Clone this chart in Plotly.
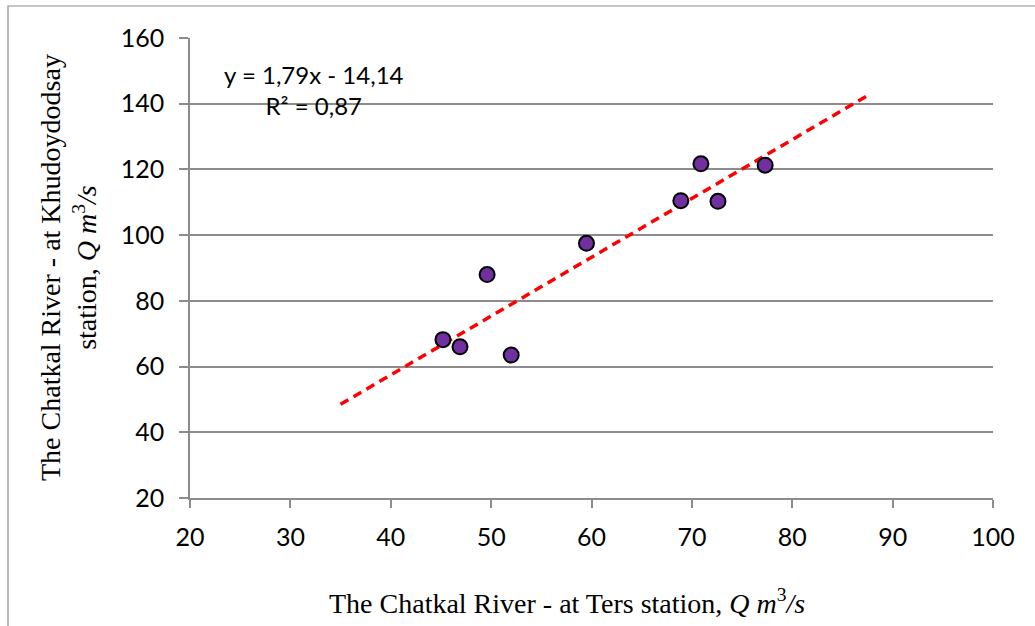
import plotly.graph_objects as go

# Data
ters_q = [45.2, 46.9, 49.6, 52.0, 59.5, 68.9, 70.9, 72.6, 77.3]
khud_q = [68.2, 66.0, 88.0, 63.5, 97.5, 110.5, 121.7, 110.3, 121.3]

slope = 1.79
intercept = -14.14
r2 = 0.87
trend_x = [35.0, 87.4]
trend_y = [slope * v + intercept for v in trend_x]

x_ticks = [20, 30, 40, 50, 60, 70, 80, 90, 100]
y_ticks = [20, 40, 60, 80, 100, 120, 140, 160]

W, H = 1035, 626
L, R, T, B = 190, 42, 38, 128
pw = W - L - R
ph = H - T - B

def px(x):
    return (x - L) / pw

def py(y):
    return (H - B - y) / ph

fig = go.Figure()
fig.add_trace(go.Scatter(
    x=trend_x, y=trend_y, mode="lines",
    line=dict(color="#FF0000", width=3.5, dash="9px,6px"),
    hoverinfo="skip", showlegend=False))
fig.add_trace(go.Scatter(
    x=ters_q, y=khud_q, mode="markers",
    marker=dict(size=15, color="#7030A0", line=dict(color="#000000", width=2)),
    showlegend=False))

grid_col = "#8C8C8C"
tick_font = dict(family="Lato, Carlito, sans-serif", size=25, color="#000000")
serif = "Liberation Serif, Times New Roman, serif"

fig.update_layout(
    width=W, height=H,
    margin=dict(l=L, r=R, t=T, b=B),
    paper_bgcolor="white", plot_bgcolor="white",
    font=tick_font,
    xaxis=dict(range=[20, 100], tickvals=x_ticks, showgrid=False, zeroline=False,
               showline=True, linecolor=grid_col, linewidth=1.5,
               ticks="outside", ticklen=8, tickcolor=grid_col, tickwidth=1.5,
               ticklabelstandoff=8,
               tickfont=tick_font, fixedrange=True),
    yaxis=dict(range=[20, 160], tickvals=y_ticks, showgrid=True, gridcolor=grid_col,
               gridwidth=1.5, zeroline=False,
               showline=True, linecolor=grid_col, linewidth=1.5,
               ticks="outside", ticklen=9, tickcolor=grid_col, tickwidth=1.5,
               ticklabelstandoff=10,
               tickfont=tick_font, fixedrange=True),
    shapes=[dict(type="rect", xref="paper", yref="paper",
                 x0=px(8), x1=px(1045), y0=py(640), y1=py(6),
                 line=dict(color="#8C8C8C", width=1.2), fillcolor="rgba(0,0,0,0)",
                 layer="below")],
    annotations=[
        dict(xref="paper", yref="paper", x=px(314), y=py(90),
             xanchor="center", yanchor="middle", align="center", showarrow=False,
             text=f"y = {str(slope).replace('.', ',')}x - {str(-intercept).replace('.', ',')}<br>R² = {str(r2).replace('.', ',')}",
             font=dict(family="Lato, Carlito, sans-serif", size=24, color="#000000")),
        dict(xref="paper", yref="paper", x=px(567), y=py(601),
             xanchor="center", yanchor="middle", showarrow=False,
             text="The Chatkal River - at Ters station, <i>Q m</i><sup>3</sup><i>/s</i>",
             font=dict(family=serif, size=28, color="#000000")),
        dict(xref="paper", yref="paper", x=px(68), y=py(268),
             xanchor="center", yanchor="middle", align="center", showarrow=False,
             textangle=-90,
             text="The Chatkal River - at Khudoydodsay<br>station, <i>Q m</i><sup>3</sup><i>/s</i>",
             font=dict(family=serif, size=28, color="#000000")),
    ],
)

fig.write_html("out.html")
